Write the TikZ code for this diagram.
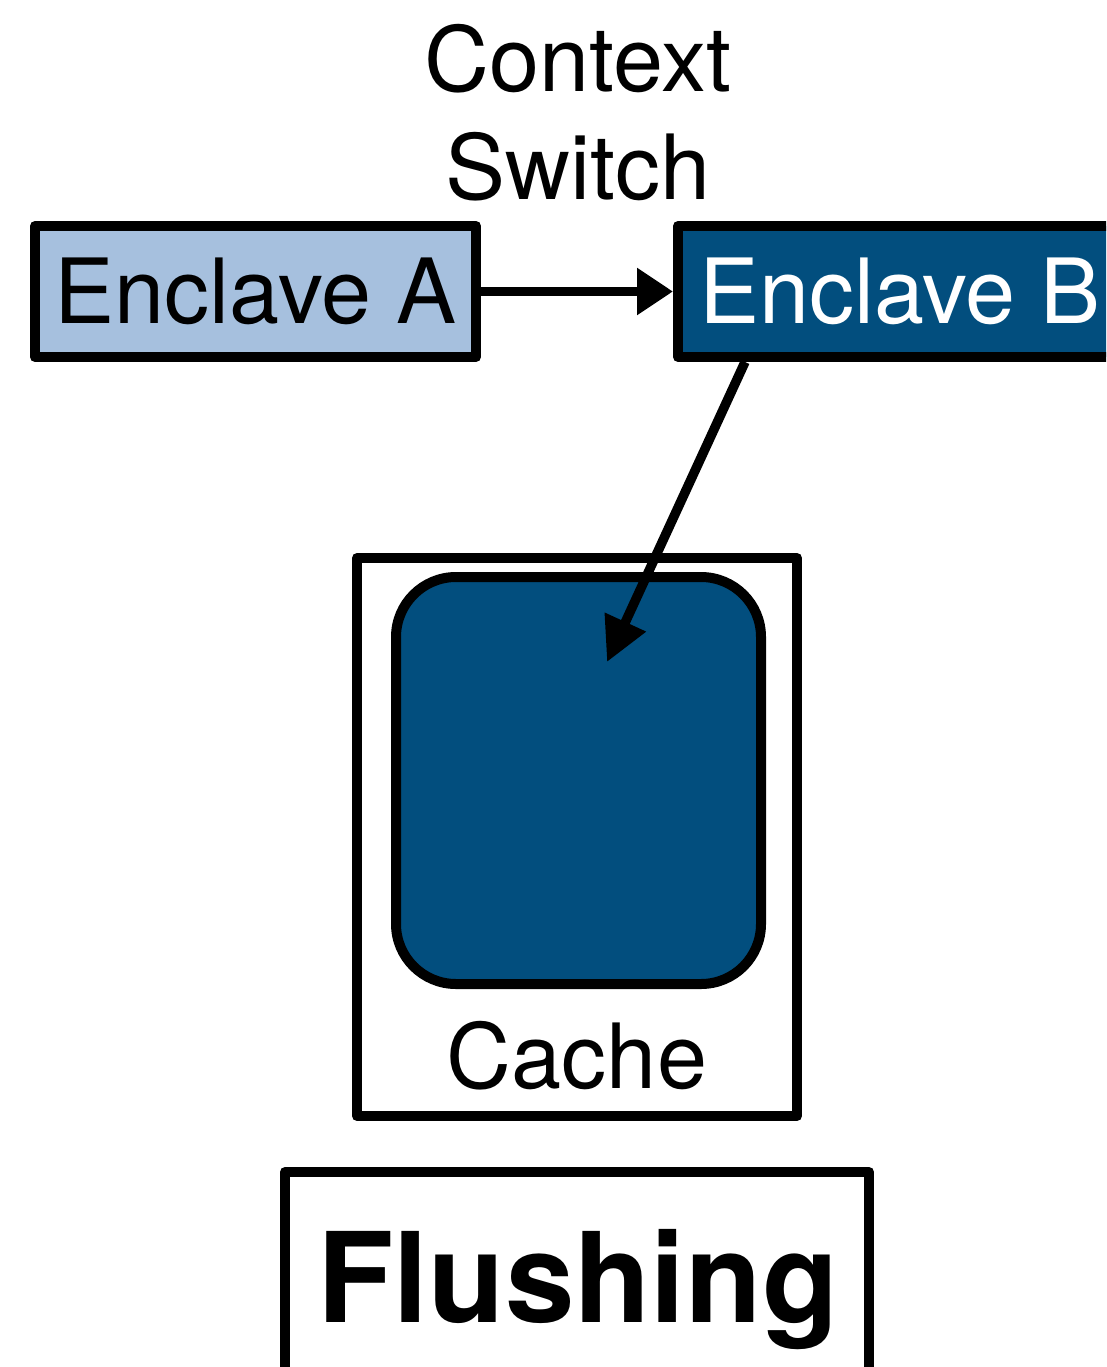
\documentclass[tikz,border=0pt]{standalone}
\usepackage{fontspec}
\setmainfont{TeX Gyre Heros}
\usetikzlibrary{arrows.meta}
\definecolor{paleblue}{RGB}{166,192,222}
\definecolor{deepblue}{RGB}{2,78,126}
\begin{document}
\begin{tikzpicture}[x=1pt,y=-1pt,
  box/.style={draw=black, line width=10pt, line join=round, rectangle, inner sep=0pt},
  big/.style={font=\fontsize{90}{108}\selectfont},
  link/.style={line width=9.5pt}]
\useasboundingbox (0,0) rectangle (1106,1367);
\clip (0,0) rectangle (1106,1367);

% the two enclaves
\node[box, fill=paleblue, minimum width=441pt, minimum height=131pt, big] (A) at (255.5,291.5) {Enclave A};
\node[box, fill=deepblue, text=white, minimum height=131pt, inner xsep=21pt, anchor=west, big] (B) at (673,291.5) {Enclave B};
% the base anchor of a two-line node sits on its last line
\node[big, align=center, anchor=base] (ctx) at (578,200) {Context\\Switch};
\draw[link, -{Triangle[length=36pt,width=45pt]}] (A) -- (B);

% cache with its occupied block
\node[box, minimum width=440pt, minimum height=558pt] (cache) at (577,837) {};
\node[box, fill=deepblue, rounded corners=60pt, minimum width=365pt, minimum height=407pt] (blk) at (578.5,780.5) {};
\node[big, anchor=base] (cachelbl) at (577,1088) {Cache};
\coordinate (bout) at ([xshift=72pt]B.south west);
\coordinate (hit) at (607,662);
\draw[link, -{Triangle[length=44pt,width=43pt]}] (bout) -- (hit);

% caption box
\node[box, minimum width=584pt, minimum height=300pt, anchor=north] (flbox) at (577,1167) {};
\node[font=\fontsize{125}{150}\selectfont\bfseries, anchor=base] (fl) at (578,1322) {Flushing};
\end{tikzpicture}
\end{document}
